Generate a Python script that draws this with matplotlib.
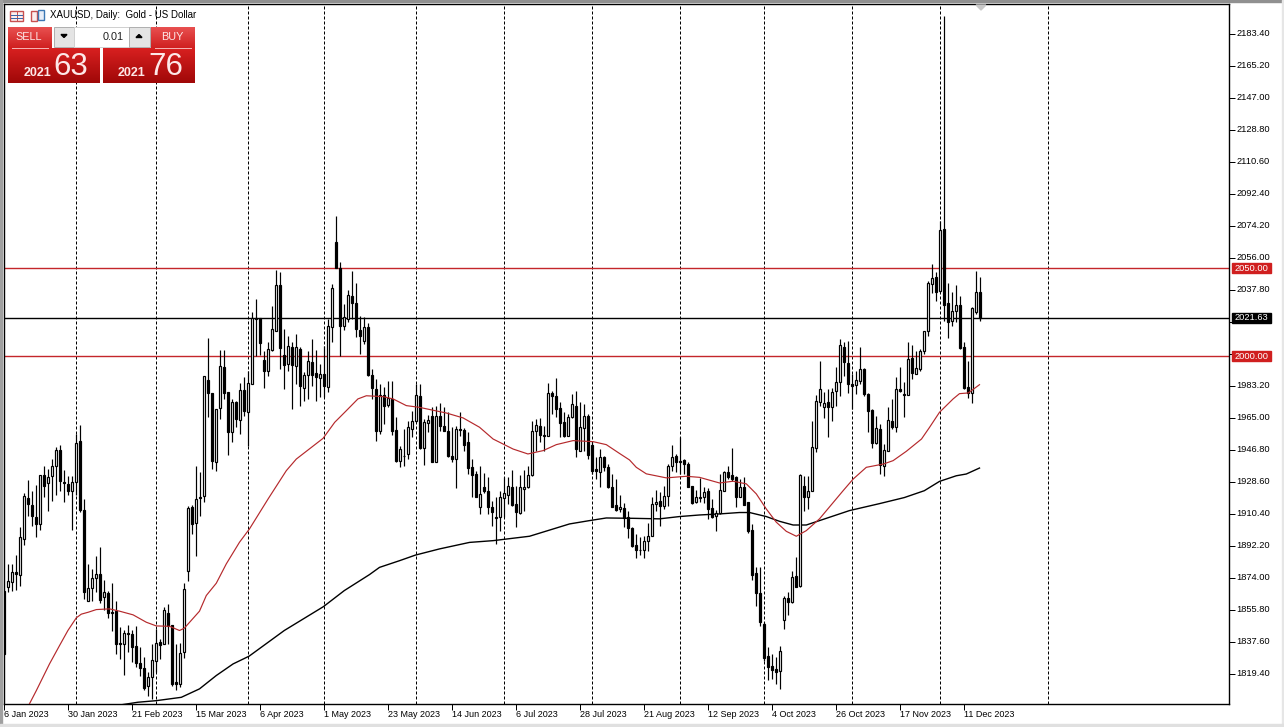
import numpy as np
import matplotlib
matplotlib.use('Agg')
import matplotlib.pyplot as plt
from matplotlib.patches import Rectangle, Polygon
from matplotlib.transforms import ScaledTranslation

plt.rcParams['font.family'] = ['Liberation Sans', 'DejaVu Sans']

# daily candles
open_ = [1866.6,1868.5,1871.4,1877.1,1875.5,1896,1919.3,1915.5,1908.7,1904.2,
 1932.4,1927.7,1931.5,1937.3,1946.6,1928.6,1927.3,1923.1,1928.2,1951.9,
 1912.5,1860.9,1868,1873.8,1876.1,1862.8,1865.3,1854.7,1854.9,1836.9,
 1836.1,1842.4,1842,1835.2,1825.7,1822.6,1812.6,1817.3,1826.4,1837.4,
 1836.1,1853.9,1847.1,1814.5,1813.5,1831.6,1878,1914.4,1905.1,1920.1,
 1920.3,1986.6,1979,1939.6,1970.5,1994,1979.6,1956.6,1974.1,1963.6,
 1980.7,1968.2,1984.1,2021.5,2021.5,1997.9,1991.3,2003.4,2014.1,2040.4,
 2000.8,1995.5,2005.3,1994.3,2004,1981.6,1989.2,1996.8,1990.4,1987.5,
 1990,1982.2,2016.3,2065.1,2049.9,2016.9,2020.9,2034.4,2030.4,2014.8,
 2008.8,2016.7,1989.4,1981.5,1957.6,1978,1972,1975.6,1957.9,1940.5,
 1943.3,1944.3,1958.7,1962.9,1977.5,1947.7,1961.7,1966.1,1939.6,1965.7,
 1960.4,1957.6,1943.4,1941.5,1958.5,1958,1951.3,1936.7,1932.9,1914,
 1925.7,1923.4,1914.3,1908.7,1908.3,1919.3,1921.2,1925.7,1915.9,1910.6,
 1924.2,1925.3,1932.4,1957.2,1960.4,1955.3,1954.3,1979,1977.1,1970.5,
 1962.7,1954.7,1965.2,1971.8,1946.2,1959.1,1966.1,1949.6,1935.8,1934.3,
 1942.8,1937.1,1925.7,1915.3,1913,1913.6,1908.3,1902.2,1892.6,1889.9,
 1889.9,1894.7,1897.5,1915.7,1917.6,1914.8,1920.2,1937.5,1943.4,1940.5,
 1941.1,1938.8,1926.3,1916.8,1919.1,1920.1,1923.3,1913.8,1908.9,1911,
 1923.5,1934.1,1932.4,1931.4,1920.1,1925.7,1916.8,1901.3,1876.8,1865.3,
 1847.6,1829.6,1823.7,1822,1820.7,1849.9,1862.2,1860,1875.1,1869.1,
 1926.3,1920.1,1923.5,1947.7,1973.7,1970.8,1973.9,1970.8,1980.3,1985.1,
 2005.3,1996.1,1984.3,1983.3,1986,1992.6,1978.4,1969.3,1950.4,1958.5,
 1937.7,1946.2,1963.3,1959.8,1981.5,1978.6,1978,1998.9,1989.8,1992.5,
 2002.7,2014.1,2041,2045.2,2036.8,2072.3,2030.2,2019.8,2025.8,2029.2,
 2005.3,1982.6,1979,2024.9,2036.6]
high = [1866.6,1881.8,1881.8,1886.9,1902.7,1922,1929.6,1923.5,1926.4,1932.6,
 1937.7,1935.8,1941.5,1948.2,1949.5,1934.9,1932,1931.5,1955.7,1960.5,
 1918.8,1881.8,1879,1886.5,1891.3,1872.7,1866.6,1871,1860.9,1845.8,
 1844.3,1847.3,1844.3,1846.7,1834.4,1828.7,1820.2,1836.3,1844.8,1839.1,
 1857.1,1858.7,1847.3,1836.3,1836.7,1870.8,1914.8,1915,1937.7,1933.9,
 1988.8,2010.3,1979,1969.9,2003.4,2003.4,1979.6,1975.6,1974.6,1984.7,
 1987.9,1991.7,2024.9,2032.5,2021.5,2003.1,2008.2,2028.3,2049,2048,
 2015.4,2011.6,2007.8,2012.5,2005,1991.1,2003.1,2009.7,2003.6,1995.5,
 2005.9,2021.1,2041,2079.9,2053.3,2029.6,2037.8,2048.6,2041.7,2022.8,
 2022,2018.6,1992.6,1987,1984.1,1982.2,1986,1985.6,1965.5,1949,
 1958.5,1963.3,1968.9,1984.1,1984.1,1964.2,1966.5,1970.8,1971.8,1973.3,
 1970.8,1968,1959.5,1960.4,1968,1959.1,1956.6,1941.5,1934.8,1937.3,
 1933.3,1931,1917.8,1919.7,1923.4,1931,1931,1935.2,1926.3,1932.5,
 1935.2,1937.7,1963.3,1964.2,1964.6,1960.4,1984.5,1980.3,1987.5,1973.7,
 1968,1967.1,1978.4,1980.3,1973.7,1972.7,1967.1,1951.5,1942.4,1947.1,
 1943.4,1938.6,1932.9,1930.1,1921.2,1916.4,1912.1,1902.6,1898.8,1896.9,
 1897.9,1905.1,1920.1,1923.9,1922.5,1926.3,1938.6,1949.6,1944.3,1954.2,
 1941.5,1939.6,1926.3,1923.9,1930.5,1925.4,1925,1918.7,1912.5,1933,
 1934.8,1937.7,1947.7,1932,1930.1,1931.1,1916.8,1904.5,1880.2,1880.2,
 1848.6,1834.4,1830.6,1828.7,1835.3,1863.7,1866,1878,1885.6,1933,
 1932,1932,1963.3,1978,1997.4,1979.4,1981.3,1981.6,1993.6,2009.7,
 2007.8,2008.4,1989.8,1991.7,2005,1993.2,1978.8,1969.9,1966.1,1961.4,
 1950,1970.8,1975.6,1987.9,1994,1985.1,2008.2,2006.3,2003.1,2004,
 2014.4,2042.9,2052.4,2047.6,2077,2193.1,2041.4,2036.2,2040.6,2034.4,
 2007.8,1997.4,2027.9,2048.6,2045.2]
low = [1830.6,1865.7,1866.2,1867.2,1869.1,1892.6,1909.3,1903.6,1897,1900.8,
 1920.1,1911.8,1917.8,1920.7,1923.5,1916.9,1920.7,1900.8,1920.7,1911.2,
 1861.9,1860.6,1860.9,1865.7,1859.6,1855.3,1851.1,1843.9,1830.6,1827.8,
 1818.8,1831.6,1825.9,1823.4,1818.3,1810.1,1806.9,1805,1820.2,1827.8,
 1836.1,1836.3,1812.6,1810.1,1812,1828.3,1872.3,1898.9,1886,1909.3,
 1917,1965.5,1935.5,1934.5,1964.2,1975.6,1943.9,1950.9,1959.5,1955.7,
 1966.1,1949,1984.1,2000.2,2000.8,1981.6,1988.8,2003.1,2014.1,1992.6,
 1981.3,1991.7,1969.7,1984.1,1971.8,1974.2,1975.6,1983.2,1974.2,1976.5,
 1976.5,1979.4,2007.8,2050.1,2000.2,2015,2019.6,2021.1,2011,2001.2,
 2006.9,1988.8,1975.6,1951.9,1955.7,1961.4,1970.8,1955.3,1939.6,1936.7,
 1937.7,1941.4,1953.8,1962.3,1947.1,1938.2,1956.6,1939.9,1939.6,1957.6,
 1957.2,1942.8,1939.6,1924.8,1954.7,1946.2,1932.9,1919.7,1919.7,1910.2,
 1922.1,1910.2,1903.5,1893.1,1900.7,1908.3,1915.9,1914.9,1902.6,1910.2,
 1912.1,1925,1932,1946.2,1950.9,1946.2,1954.3,1967.1,1965.2,1953.8,
 1953.8,1954.3,1964.8,1942.8,1945.8,1946.2,1941.5,1932.9,1930.1,1925.3,
 1934.8,1925,1914,1912.1,1911.1,1902.6,1896.3,1891.2,1885.2,1887.1,
 1885.2,1889.3,1897.5,1912.1,1903.6,1913,1914.9,1934.8,1933.9,1933,
 1933,1925.4,1915.9,1916.3,1916.8,1916.3,1907.4,1907.9,1900.7,1910.2,
 1923.1,1930.1,1929.2,1914,1919.7,1915.5,1899.2,1872.7,1857.7,1846.3,
 1826.8,1815.8,1816.3,1813.5,1810.7,1844.8,1852.9,1859.6,1868.5,1868.9,
 1912.1,1913,1923.5,1945.2,1971.8,1964.8,1953.8,1963.3,1971.8,1977.1,
 1988.8,1978.8,1969.9,1978.4,1984.1,1977.5,1956.6,1947.7,1950,1932.9,
 1931.6,1945.8,1958.5,1956.6,1979.4,1965.5,1977.9,1987,1989.8,1991.3,
 2001.2,2011.6,2035.7,2031.5,2036.2,2019.8,2010.1,2017.3,2019.2,2004,
 1981.3,1976.1,1973.1,2023.9,2020.1]
close = [1830.6,1872.1,1877.1,1876.1,1897.3,1920.5,1915.9,1908.9,1904.2,1932.6,
 1926,1931.3,1937.5,1946.6,1929.2,1927.9,1923.1,1928.6,1950.8,1912.5,
 1865.7,1868.1,1873.8,1876.1,1861.5,1865.9,1853.7,1853.7,1836.1,1836.1,
 1842.5,1842,1834.8,1825.3,1822.6,1811.3,1817.7,1827.2,1836.9,1835.9,
 1855.8,1846.3,1813.2,1813.2,1831.2,1867.6,1913.6,1904.2,1918.8,1919.1,
 1988.8,1979,1940.5,1969.9,1994.5,1978.8,1956.6,1973.9,1964.4,1980.7,
 1968.9,1984.7,2021.5,2020.9,2007.2,1991.3,2004,2015.4,2040.4,2004.4,
 1995.1,2005.7,1995.1,2005.3,1982.8,1989.4,1997.2,1989.4,1987.9,1989.8,
 1982.8,2017.1,2038.7,2050.3,2016.9,2022,2034.7,2030.4,2015.4,2011.2,
 2016.7,1989,1981.6,1957.6,1978,1971.8,1976.1,1957.2,1940.5,1947.3,
 1943,1959.7,1963.3,1977.9,1947.7,1962.3,1963.6,1939.9,1966.1,1960.4,
 1957.2,1943.4,1941.5,1958.5,1958,1949.6,1936.1,1932.5,1920,1921.5,
 1923.1,1914,1911.1,1907.9,1920,1922.1,1926.1,1915.3,1911.5,1925.7,
 1925.3,1932.4,1957.6,1960.8,1955.3,1954.3,1979,1977.1,1969.9,1961.9,
 1954.7,1965.5,1972.7,1947.1,1959.5,1965.7,1943.9,1934.8,1934.4,1942.8,
 1936.7,1925.3,1914.3,1912.4,1914.3,1907.9,1902.2,1892,1889.7,1889.7,
 1894.7,1897.7,1915.9,1917,1914.6,1920.4,1937.5,1942.6,1939.6,1940,
 1938.6,1925.7,1916.5,1920.1,1920.1,1922.9,1913,1908.3,1910.6,1923.9,
 1934.1,1931.4,1930.1,1920.1,1925.7,1915.5,1900.7,1875.3,1865.3,1849,
 1828.1,1823,1821.5,1820.1,1832.5,1862.2,1860.3,1874.6,1868.9,1932.6,
 1920.1,1923.5,1948.5,1974.4,1981.5,1973.3,1971.2,1979.7,1985.2,2006.3,
 1996.4,1983.9,1982.8,1986.4,1992.6,1978.4,1968.9,1950.4,1959.1,1938.2,
 1946.6,1963.6,1959.5,1981.3,1980.3,1977.9,1998.3,1990.2,1993.2,2003.1,
 2014.1,2041.7,2044.4,2036.2,2071.7,2029.2,2019.2,2025.8,2029.2,2004.6,
 1981.6,1979.2,2027.5,2036.6,2021.6]

# moving averages, read at the bends of each line
ma50_bars = [6.2,8,11.3,13.8,15.9,18,19.25,21,23,26.3,28.8,32.2,35.5,38,41.3,43.8,45,48.8,50.5,53,55.5,58.8,61.3,
 66,70.5,73,79.7,82.6,85.5,88.4,90.5,94.7,97.2,100.5,103.8,108.8,110.5,114.7,118.8,122.2,127.2,130.9,134.7,138,
 142.2,147.2,150.5,153.8,156.3,158,160.5,165.5,170.5,173.8,178.8,182.2,185.5,188,190.5,193,195.5,198,200.5,203.8,
 209.7,212.2,215.5,219.8,222.2,225.5,229.3,231.3,233.8,237.2,238.8,241,243.8]
ma50_vals = [1801.8,1809.7,1824.9,1835.3,1843.9,1851.1,1853.2,1854.3,1855.8,1856.2,1854.9,1852.8,1848.6,1846.5,1846.3,1843.9,1845.2,1854.9,1863.8,1870.8,1881.8,1894.1,1901.7,
 1918.9,1934.8,1941.4,1953.2,1962.3,1968.9,1975.6,1977.4,1976.9,1975.6,1971.8,1970.8,1968.4,1967.6,1964.8,1959.5,1952.8,1947.1,1944.3,1946.2,1949.6,
 1951.9,1951.3,1949.6,1944.6,1940.9,1936.7,1933,1930.7,1931.6,1931,1927.8,1928.8,1927.3,1921.6,1913,1905.5,1900.3,1897.5,1900.7,1907.4,
 1923.4,1930,1936.7,1938.6,1940.5,1945.8,1952.8,1959.4,1968,1975.6,1978.6,1979,1983.7]
ma200_bars = [29.7,33.4,38,44.25,48.8,53,57.2,61.2,70,79.8,85,91.3,93.8,98.8,102.8,108.8,116.3,122.2,131.3,141.3,146.3,150.5,
 157.2,163.8,168.8,173.8,178.8,183.8,186.3,190.5,193.8,197.2,200.5,203.8,211.3,218.7,225,230,233.8,238,240.5,243.8]
ma200_vals = [1801.8,1803.1,1804,1805.9,1810.7,1818.3,1824.9,1829.3,1843.9,1857.5,1866.6,1875.7,1879.8,1883.6,1886.8,1890.3,1894,1895,1897.5,1904.5,1906.4,1907.9,
 1907.7,1907.4,1908.7,1909.6,1910.2,1911,1911,1908.7,1906,1903.9,1903.9,1906.4,1912.1,1916,1919.5,1923.4,1928.7,1931.9,1932.9,1936.3]

level_prices = [2050.0, 2000.0]
last_price = 2021.63
month_bars = [18,38,61,80,103,125,147,169,190,212,234,261]
date_bars = list(range(0, 241, 16))
date_labels = ['6 Jan 2023','30 Jan 2023','21 Feb 2023','15 Mar 2023','6 Apr 2023','1 May 2023','23 May 2023','14 Jun 2023',
 '6 Jul 2023','28 Jul 2023','21 Aug 2023','12 Sep 2023','4 Oct 2023','26 Oct 2023','17 Nov 2023','11 Dec 2023']
price_ticks = [1819.4 + 18.2*k for k in range(21)]
# 2001.40 and 2019.60 sit behind the price tags in the terminal
hidden_ticks = [10, 11]

W, H = 1284, 727
PX = 0.72   # one pixel in points at dpi 100
YMIN, YMAX = 1802.1, 2200.2

fig = plt.figure(figsize=(W/100, H/100), dpi=100, facecolor='white')
ax = fig.add_axes([4/W, 1-704/H, (1229-4)/W, 700/H])
ax.set_xlim(-0.075, 306.175)
ax.set_ylim(YMIN, YMAX)

bars = np.arange(len(close))
for b in month_bars:
    ax.axvline(b, color='black', lw=PX, linestyle=(0, (3, 2)), zorder=1)
for p in level_prices:
    ax.axhline(p, color='#c4262a', lw=1.0, zorder=2)
ax.axhline(last_price, color='black', lw=1.0, zorder=2)

ax.plot(ma200_bars, ma200_vals, color='black', lw=1.0, zorder=3)
ax.vlines(bars, low, high, color='black', lw=PX*1.2, zorder=4)
o = np.array(open_)
c = np.array(close)
ax.bar(bars, np.abs(c-o), bottom=np.minimum(o, c), width=0.55, linewidth=PX*1.2, edgecolor='black',
       color=['white' if c[i] > o[i] else 'black' for i in bars], zorder=5)
ax.plot(ma50_bars, ma50_vals, color='#b5292c', lw=0.85, zorder=6)

ax.yaxis.tick_right()
ax.set_yticks(price_ticks)
ax.set_yticklabels(['' if k in hidden_ticks else '%.2f' % p for k, p in enumerate(price_ticks)], fontsize=6.7)
ax.tick_params(axis='y', length=4, width=PX, pad=1.5)
ax.set_xticks(date_bars)
ax.set_xticklabels(date_labels, fontsize=6.5, ha='left')
ax.tick_params(axis='x', length=4, width=PX, pad=0.5)
for lab in ax.get_yticklabels():
    lab.set_transform(lab.get_transform() + ScaledTranslation(0, 1/100, fig.dpi_scale_trans))
for s in ax.spines.values():
    s.set_linewidth(1.0)

# window furniture and trade panel, in pixel coordinates
ui = fig.add_axes([0, 0, 1, 1], facecolor='none')
ui.axis('off')


def gradient(x0, y0, x1, y1, top, bottom):
    cmap = matplotlib.colors.LinearSegmentedColormap.from_list('g', [top, bottom])
    ui.imshow(np.linspace(0, 1, 64).reshape(-1, 1), cmap=cmap, aspect='auto',
              extent=(x0, x1, y1, y0), zorder=3, interpolation='bilinear')


ui.add_patch(Rectangle((0, 0), W, 1.5, color='#909090', zorder=1))
ui.add_patch(Rectangle((0, 0), 1.5, 724, color='#a0a0a0', zorder=1))
ui.add_patch(Rectangle((1282, 0), 2, H, color='#e6e6e6', zorder=1))
ui.add_patch(Rectangle((0, 724), W, 3, color='#e0e0e0', zorder=1))
ui.add_patch(Polygon([(976, 5), (986, 5), (981, 10)], color='#c8c8c8', zorder=2))

# price tags on the axis
for p, col, txt in [(2050.0, '#d01f1f', '2050.00'), (last_price, 'black', '2021.63'), (2000.0, '#d01f1f', '2000.00')]:
    y = 704 - (p-YMIN)/(YMAX-YMIN)*700
    ui.add_patch(Rectangle((1232, y-5), 39, 10, color=col, zorder=4))
    ui.text(1251.5, y, txt, color='white', fontsize=6.7, ha='center', va='center', zorder=5)

# header
ui.add_patch(Rectangle((10, 11), 13, 10, fc='#fbeeee', ec='#c85050', lw=1.0, zorder=2))
ui.plot([16.5, 16.5], [11, 21], color='#c85050', lw=PX, zorder=3)
ui.plot([11, 22], [14.5, 14.5], color='#3c64a8', lw=PX, zorder=3)
ui.plot([11, 22], [17.5, 17.5], color='#3c64a8', lw=PX, zorder=3)
ui.add_patch(Rectangle((31, 11), 6, 10, fc='#fbeeee', ec='#c85050', lw=1.0, zorder=2))
ui.add_patch(Rectangle((38, 10), 6, 10, fc='#e8eef8', ec='#3c78b4', lw=1.0, zorder=2))
ui.text(50.5, 15.5, 'XAUUSD, Daily:  Gold - US Dollar', fontsize=7, color='black', va='center', zorder=5)

# sell / buy buttons
gradient(8, 27, 52, 48, '#e85050', '#d02020')
gradient(151, 27, 195, 48, '#e85050', '#d02020')
gradient(8, 48, 100, 83, '#d82020', '#a00808')
gradient(103, 48, 195, 83, '#d82020', '#a00808')
ui.plot([12, 48], [47.5, 47.5], color='#f4b0b0', lw=PX, zorder=4)
ui.plot([155, 191], [47.5, 47.5], color='#f4b0b0', lw=PX, zorder=4)
ui.add_patch(Rectangle((54, 27), 20, 20, fc='#e4e4e4', ec='#b0b0b0', lw=PX, zorder=3))
ui.add_patch(Rectangle((74, 27), 55, 20, fc='white', ec='#d0d0d0', lw=PX, zorder=3))
ui.add_patch(Rectangle((129, 27), 21, 20, fc='#e4e4e4', ec='#b0b0b0', lw=PX, zorder=3))
ui.add_patch(Polygon([(61, 34.5), (67, 34.5), (64, 37.5)], color='black', zorder=4))
ui.add_patch(Polygon([(136, 37.5), (142, 37.5), (139, 34.5)], color='black', zorder=4))
ui.text(124, 36.5, '0.01', fontsize=7.8, ha='right', va='center', color='#202020', zorder=5)
ui.text(29, 37, 'SELL', fontsize=7.8, ha='center', va='center', color='#fde8e8', zorder=5)
ui.text(172, 37, 'BUY', fontsize=7.8, ha='center', va='center', color='#fde8e8', zorder=5)
ui.text(37, 72.5, '2021', fontsize=9, fontweight='bold', ha='center', va='center', color='#fde8e8', zorder=5)
ui.text(71, 67, '63', fontsize=22.5, ha='center', va='center', color='#fde8e8', zorder=5)
ui.text(131, 72.5, '2021', fontsize=9, fontweight='bold', ha='center', va='center', color='#fde8e8', zorder=5)
ui.text(166, 67, '76', fontsize=22.5, ha='center', va='center', color='#fde8e8', zorder=5)

ui.set_xlim(0, W)
ui.set_ylim(H, 0)

fig.savefig('out.png', dpi=100)
